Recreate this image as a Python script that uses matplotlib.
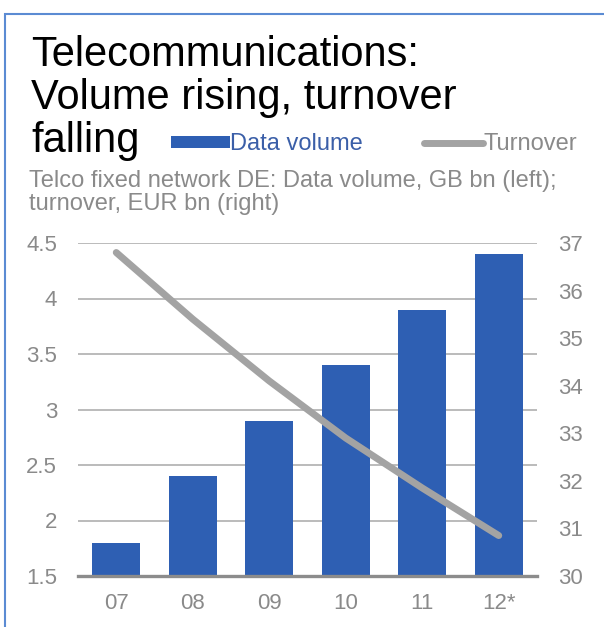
import numpy as np
import matplotlib
matplotlib.use('Agg')
import matplotlib.pyplot as plt
from matplotlib.patches import Rectangle

plt.rcParams['font.family'] = ['Liberation Sans', 'DejaVu Sans']

# Data
years = ['07', '08', '09', '10', '11', '12*']
data_volume = [1.8, 2.4, 2.9, 3.4, 3.9, 4.4]          # GB bn (left axis)
turnover = [36.8, 35.4, 34.1, 32.9, 31.85, 30.85]    # EUR bn (right axis)
left_ticks = [1.5, 2, 2.5, 3, 3.5, 4, 4.5]
left_ticklabels = ['1.5', '2', '2.5', '3', '3.5', '4', '4.5']
right_ticks = [30, 31, 32, 33, 34, 35, 36, 37]

title_lines = ['Telecommunications:', 'Volume rising, turnover', 'falling']
subtitle_lines = ['Telco fixed network DE: Data volume, GB bn (left);', 'turnover, EUR bn (right)']

BLUE = '#2e5fb3'
LINE_GREY = '#a3a3a3'
TEXT_GREY = '#8a8a8a'
GRID_GREY = '#a8a8a8'
FRAME_BLUE = '#5b8bd3'

W, H = 604, 627
fig = plt.figure(figsize=(W / 100, H / 100), dpi=100, facecolor='white')

# outer blue frame (runs off the right and bottom of the picture)
fig.patches.append(Rectangle((5 / W, -0.1), 1.2, 1 - 14 / H + 0.1, transform=fig.transFigure,
                             fill=False, edgecolor=FRAME_BLUE, linewidth=1.5))

ax = fig.add_axes([78 / W, 1 - 576 / H, (537 - 78) / W, (576 - 243) / H])
x = np.arange(len(years))

bars = ax.bar(x, data_volume, width=0.63, color=BLUE, zorder=2)
ax.set_ylim(1.5, 4.5)
ax.set_xlim(-0.5, len(years) - 0.5)
ax.set_yticks(left_ticks)
ax.set_yticklabels(left_ticklabels)
ax.set_xticks(x)
ax.set_xticklabels(years)
ax.grid(axis='y', color=GRID_GREY, linewidth=1.1, zorder=0)
ax.set_axisbelow(True)
for s in ['top', 'left', 'right']:
    ax.spines[s].set_visible(False)
ax.spines['bottom'].set_color('#8c8c8c')
ax.spines['bottom'].set_linewidth(2.4)
ax.spines['bottom'].set_zorder(3)
ax.tick_params(axis='y', length=0, pad=15, labelsize=16, labelcolor=TEXT_GREY)
ax.tick_params(axis='x', length=0, pad=12, labelsize=16, labelcolor=TEXT_GREY)

ax2 = ax.twinx()
line, = ax2.plot(x, turnover, color=LINE_GREY, linewidth=5, solid_capstyle='round', zorder=4)
ax2.set_ylim(30, 37)
ax2.set_yticks(right_ticks)
for s in ax2.spines.values():
    s.set_visible(False)
ax2.tick_params(axis='y', length=0, pad=15, labelsize=16, labelcolor=TEXT_GREY)

# title and subtitle, one text per line
for txt, yb in zip(title_lines, [66, 109, 152]):
    fig.text(31 / W, 1 - yb / H, txt, fontsize=30, color='black', va='baseline', ha='left')
for txt, yb in zip(subtitle_lines, [187, 210]):
    fig.text(29 / W, 1 - yb / H, txt, fontsize=17, color=TEXT_GREY, va='baseline', ha='left')

leg = fig.legend([bars, line], ['Data volume', 'Turnover'], loc='center left',
                 bbox_to_anchor=(171 / W, 1 - 144 / H), ncol=2, frameon=False,
                 fontsize=17, handlelength=2.5, handletextpad=0.0, columnspacing=2.6,
                 borderpad=0, borderaxespad=0, handleheight=0.4)
leg.get_texts()[0].set_color('#3b5fa8')
leg.get_texts()[1].set_color(TEXT_GREY)

fig.savefig('out.png', dpi=100, facecolor='white')
